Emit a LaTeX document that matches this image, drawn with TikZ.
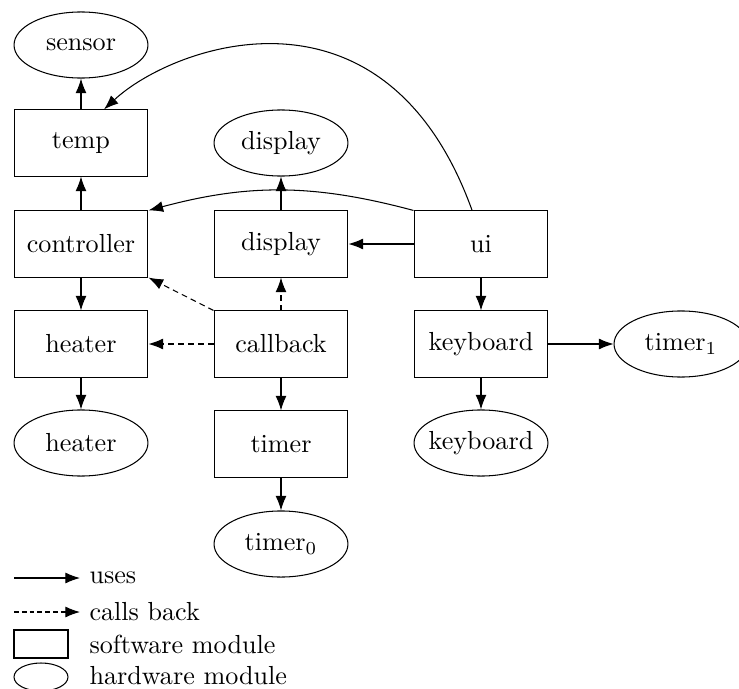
\documentclass[tikz,border=0pt]{standalone}
\usepackage{amsmath}
\usetikzlibrary{arrows.meta,shapes.geometric}

\begin{document}
\begin{tikzpicture}[x=38.3pt,y=-38.3pt,>={Latex[length=5.6pt,width=4.2pt]},
    soft/.style={draw,rectangle,minimum width=51.3pt,minimum height=25.3pt,inner sep=0pt},
    hard/.style={draw,ellipse,minimum width=51.3pt,minimum height=25.3pt,inner xsep=-5pt,inner ysep=0pt},
    uses/.style={->},
    callsback/.style={->,dash pattern=on 2.2pt off 1.6pt},
    legtext/.style={anchor=west,inner sep=0pt}]
  \useasboundingbox (0,0) rectangle (7.39,6.89);
  % software modules
  \node[soft] (temp) at (0.81,1.43) {temp};
  \node[soft] (controller) at (0.81,2.44) {controller};
  \node[soft] (heaterS) at (0.81,3.44) {heater};
  \node[soft] (displayS) at (2.81,2.44) {display};
  \node[soft] (callback) at (2.81,3.44) {callback};
  \node[soft] (timer) at (2.81,4.44) {timer};
  \node[soft] (ui) at (4.81,2.44) {ui};
  \node[soft] (keyboardS) at (4.81,3.44) {keyboard};
  % hardware modules
  \node[hard] (sensor) at (0.81,0.45) {sensor};
  \node[hard] (displayH) at (2.81,1.43) {display};
  \node[hard] (heaterH) at (0.81,4.43) {heater};
  \node[hard] (timer0) at (2.81,5.44) {timer$_0$};
  \node[hard] (keyboardH) at (4.81,4.43) {keyboard};
  \node[hard] (timer1) at (6.81,3.44) {timer$_1$};
  % uses
  \draw[uses] (temp) -- (sensor);
  \draw[uses] (controller) -- (temp);
  \draw[uses] (controller) -- (heaterS);
  \draw[uses] (heaterS) -- (heaterH);
  \draw[uses] (displayS) -- (displayH);
  \draw[uses] (ui) -- (displayS);
  \draw[uses] (ui.north west) to[bend right=15] (controller.north east);
  \draw[uses] ([xshift=-3.4pt]ui.north) .. controls +(-0.87,-2.41) and +(0.70,-0.65) .. ([xshift=8.8pt]temp.north);
  \draw[uses] (ui) -- (keyboardS);
  \draw[uses] (keyboardS) -- (keyboardH);
  \draw[uses] (keyboardS) -- (timer1);
  \draw[uses] (callback) -- (timer);
  \draw[uses] (timer) -- (timer0);
  % calls back
  \draw[callsback] (callback) -- (heaterS);
  \draw[callsback] (callback.north west) -- (controller.south east);
  \draw[callsback] (callback) -- (displayS);
  % legend
  \coordinate (usesA) at (0.14,5.78);
  \coordinate (usesB) at (0.80,5.78);
  \coordinate (cbA) at (0.14,6.12);
  \coordinate (cbB) at (0.80,6.12);
  \draw[uses] (usesA) -- (usesB);
  \node[legtext] (usesT) at (0.89,5.78) {uses};
  \draw[callsback,dash pattern=on 1.8pt off 1.2pt] (cbA) -- (cbB);
  \node[legtext] (cbT) at (0.89,6.12) {calls back};
  \draw (0.14,6.30) rectangle (0.68,6.58);
  \node[legtext] (softT) at (0.89,6.44) {software module};
  \draw (0.41,6.77) ellipse (0.27 and 0.14);
  \node[legtext] (hardT) at (0.89,6.76) {hardware module};
\end{tikzpicture}
\end{document}
